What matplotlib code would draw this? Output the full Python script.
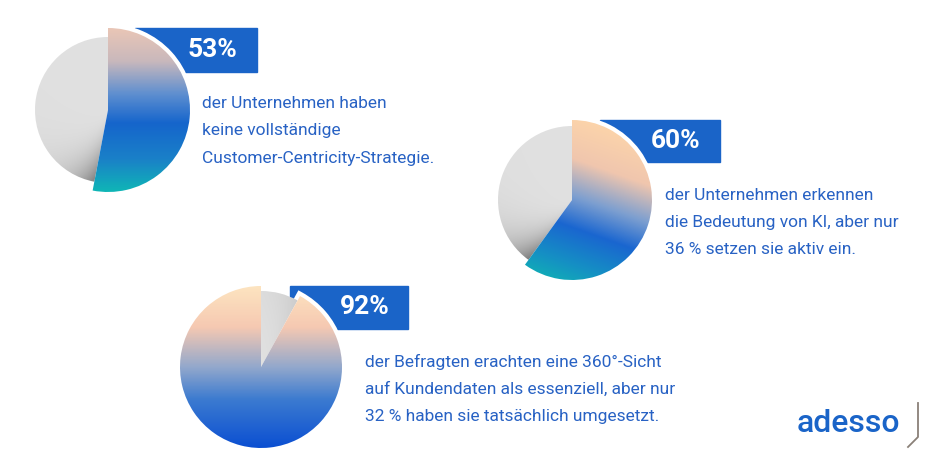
import numpy as np
import matplotlib
matplotlib.use("Agg")
import matplotlib.pyplot as plt
from matplotlib.colors import LinearSegmentedColormap

# --- data ---
shares = [53, 60, 92]
badges = ["53%", "60%", "92%"]
captions = [
    ["der Unternehmen haben", "keine vollständige", "Customer-Centricity-Strategie."],
    ["der Unternehmen erkennen", "die Bedeutung von KI, aber nur", "36 % setzen sie aktiv ein."],
    ["der Befragten erachten eine 360°-Sicht", "auf Kundendaten als essenziell, aber nur",
     "32 % haben sie tatsächlich umgesetzt."],
]

W, H = 945, 472
plt.rcParams["font.family"] = ["Roboto", "DejaVu Sans"]

BLUE = "#1a64c8"
TEXT = "#2862c4"

fig = plt.figure(figsize=(W / 100, H / 100), dpi=100)
ax = fig.add_axes([0, 0, 1, 1])

# layout per pie: center (px, y from top), radius, gray radius, badge box, text x, line ys
layout = [
    dict(c=(108, 110), r=82, rg=73, box=(135, 28, 257, 72), tx=202, ly=(104, 131, 158),
         first=True),
    dict(c=(572, 200), r=80, rg=74, box=(600, 120, 720, 162), tx=665, ly=(195, 222, 250),
         first=True),
    dict(c=(261, 367), r=81, rg=76, box=(290, 286, 408, 329), tx=365, ly=(362, 389, 417),
         first=False),
]

grads = [
    [(0.0, "#e9c6b6"), (0.2, "#c9b8bc"), (0.4, "#5f8fd0"), (0.58, "#1565cc"),
     (0.8, "#1a80c8"), (1.0, "#0fb6b6")],
    [(0.0, "#fdd5aa"), (0.25, "#f0c6ae"), (0.45, "#7d9fd0"), (0.62, "#1a66d0"),
     (0.82, "#1590c4"), (1.0, "#0fbab0")],
    [(0.0, "#fde4c0"), (0.25, "#f6c9b2"), (0.5, "#93a8cc"), (0.7, "#3c7bd0"),
     (1.0, "#0b4fd2")],
]


def Y(y):
    return H - y


for i, (share, badge, cap, lay, stops) in enumerate(zip(shares, badges, captions, layout, grads)):
    cx, cy = lay["c"][0], Y(lay["c"][1])
    r = lay["r"]
    x0, y0, x1, y1 = lay["box"]
    ax.add_patch(plt.Rectangle((x0, Y(y1)), x1 - x0, y1 - y0, color=BLUE, zorder=1))
    ax.text((x0 + x1) / 2 + 16, Y((y0 + y1) / 2), badge, color="white",
            fontsize=19, fontweight="bold", ha="center", va="center", zorder=5)

    vals = [share, 100 - share] if lay["first"] else [100 - share, share]
    wedges, _ = ax.pie(vals, center=(cx, cy), radius=r, startangle=90,
                       counterclock=False, colors=["none", "none"],
                       wedgeprops=dict(edgecolor="none"))
    wcol, wgray = wedges if lay["first"] else wedges[::-1]
    wgray.set_radius(lay["rg"])

    # white outline around coloured slice (only shows over the badge)
    outl, _ = ax.pie(vals, center=(cx, cy), radius=r, startangle=90,
                     counterclock=False, colors=["white", "white"],
                     wedgeprops=dict(edgecolor="white", linewidth=6, zorder=1.2))
    (outl[1] if lay["first"] else outl[0]).set_visible(False)

    # coloured gradient
    n = 300
    xs = np.linspace(-1, 1, n)
    gx, gy = np.meshgrid(xs, xs)
    t = (1 - gy) / 2
    if i == 1:
        t = np.clip(t * 0.85 + (-gx) * 0.15 + 0.05, 0, 1)
    cmap = LinearSegmentedColormap.from_list("g", stops)
    im = ax.imshow(cmap(t), extent=(cx - r, cx + r, cy - r, cy + r), origin="lower",
                   zorder=3, interpolation="bilinear")
    im.set_clip_path(wcol)

    # gray slice with soft shadow along the boundary
    ang = np.degrees(np.arctan2(gy, gx))
    if lay["first"]:
        edge = 90 - share * 3.6
    else:
        edge = 90 - (100 - share) * 3.6
    d = (edge - ang) % 360
    d = np.minimum(d, 360 - d)
    rad = np.hypot(gx, gy)
    shade = np.exp(-d / 18.0) * np.clip(rad, 0, 1) ** 1.5
    if not lay["first"]:
        shade = shade * 0.2
    val = 0.88 - 0.45 * shade
    gimg = np.dstack([val, val, val, np.ones_like(val)])
    im2 = ax.imshow(gimg, extent=(cx - r, cx + r, cy - r, cy + r), origin="lower",
                    zorder=1.5, interpolation="bilinear")
    im2.set_clip_path(wgray)

    for line, ly in zip(cap, lay["ly"]):
        ax.text(lay["tx"], Y(ly), line, color=TEXT, fontsize=12.5,
                ha="left", va="center", zorder=5)

# logo
ax.text(797, Y(423), "adesso", color=BLUE, fontsize=23, ha="left", va="center",
        fontweight="medium")
ax.plot([918, 918, 908], [Y(403), Y(437), Y(447)], color="#8a8078", lw=1.3)

ax.set_xlim(0, W)
ax.set_ylim(0, H)
ax.set_aspect("auto")
ax.axis("off")
fig.savefig("out.png", dpi=100, facecolor="white")
